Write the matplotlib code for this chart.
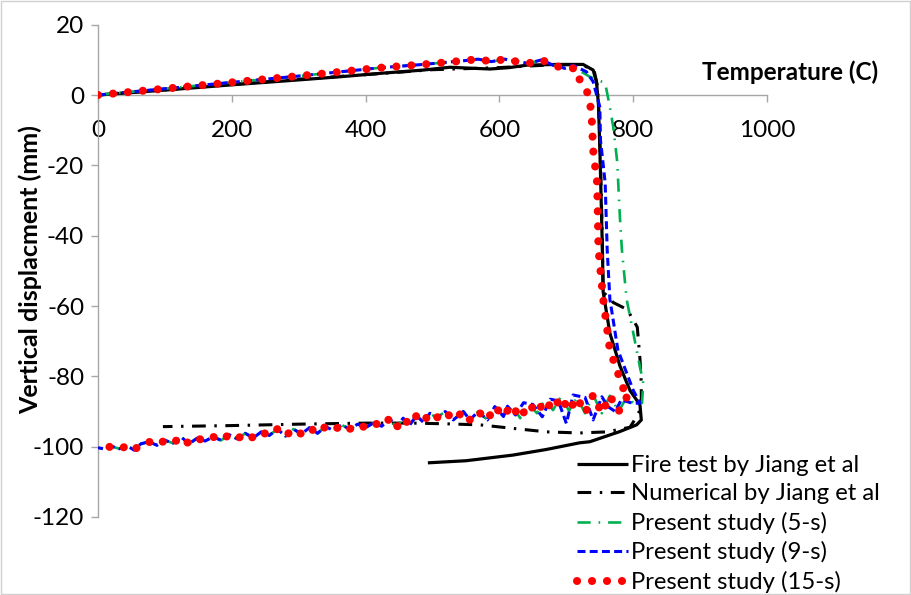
import matplotlib
matplotlib.use("Agg")
import matplotlib.pyplot as plt
from matplotlib.patches import Rectangle

plt.rcParams['font.family'] = ['Lato', 'DejaVu Sans']
plt.rcParams['axes.unicode_minus'] = False

# ---------------- data ----------------
fire_T = [0, 100, 200, 300, 362, 424, 486, 526, 560, 586, 615, 641, 686, 725, 740, 745, 748,
          750, 752, 754, 755, 765, 780, 795, 810, 812, 805, 780, 735, 720, 670, 620, 550, 493]
fire_y = [0, 1.4, 2.9, 4.3, 5.2, 6.2, 7.1, 7.9, 7.6, 7.4, 7.8, 8.5, 8.7, 8.7, 7.1, 3.8, -2.8,
          -15, -30, -45, -56, -67.7, -77, -84, -88.1, -92.4, -93.8, -95.7, -98.6, -98.9, -100.8, -102.4, -104, -104.6]

num_T = [0, 100, 200, 300, 400, 500, 600, 680, 725, 742, 747, 750, 753, 755, 770, 791, 806, 810, 812, 812,
         800, 795, 760, 720, 671, 620, 571, 520, 470, 400, 300, 200, 97]
num_y = [0, 1.5, 3.0, 4.5, 5.8, 7.2, 7.8, 8.6, 8.6, 6.5, 2.0, -12, -35, -56, -59, -61, -66, -75, -82, -89,
         -93.0, -94.5, -95.8, -96.1, -95.8, -94.8, -93.8, -93.5, -93.3, -93.3, -93.6, -94.0, -94.3]

# present study - upper (heating) branch, shared shape
up_T = [0, 100, 200, 300, 362, 424, 486, 549, 568, 588, 608, 626, 643, 663, 681, 698]
up_y = [0, 1.8, 3.6, 5.4, 6.6, 7.8, 8.7, 9.8, 10.2, 9.5, 10.2, 9.5, 9.0, 10.0, 8.4, 7.6]

s5_T = [710, 735, 758, 765, 770, 776, 780, 783, 790, 805, 815, 813]
s5_y = [8.0, 5.2, 3.4, -3.4, -9, -19, -34.7, -44, -58, -72.5, -82, -87.6]

s9_T = [710, 730, 740, 746, 750, 751, 758, 761, 765, 777, 800, 810]
s9_y = [8.5, 6.6, 3.8, -0.5, -3.4, -12.8, -25, -44, -58, -72.5, -84, -87.6]

s15_T = [715, 720, 730, 735, 738, 740, 746, 748, 755, 765, 778, 785, 795]
s15_y = [7.6, 4.3, 1.4, -1.4, -7, -15.6, -25, -44, -58, -72.5, -79.6, -83.4, -86.0]

# present study - lower (cooling) branch, oscillating
low_T = [800, 790, 778, 765, 753, 740, 728, 716, 704, 692, 680, 668, 656, 644, 631, 618, 606, 593,
         582, 568, 556, 546, 531, 519, 506, 496, 486, 476, 466, 456, 446, 436, 424, 412, 400, 388,
         376, 364, 352, 340, 328, 316, 304, 292, 280, 268, 256, 244, 232, 220, 208, 196, 184, 172,
         160, 148, 136, 124, 112, 100, 88, 76, 64, 54, 44, 32, 20, 8, 0]
low_y = [-87.5, -86.0, -90.0, -85.5, -90.5, -85.3, -90.5, -86.0, -89.8, -85.8, -89.6, -86.7, -90.5,
         -87.8, -91.9, -88.1, -91.4, -88.6, -92.4, -90.0, -92.4, -90.0, -92.4, -90.0, -91.8, -90.5,
         -93.0, -91.2, -93.8, -91.9, -94.6, -92.0, -94.2, -93.2, -94.6, -93.6, -95.0, -93.8, -95.4,
         -94.3, -96.2, -94.6, -96.4, -95.0, -97.0, -95.0, -96.8, -95.8, -97.5, -96.2, -97.8, -96.6,
         -98.2, -97.2, -98.4, -97.6, -99.2, -97.2, -99.0, -98.2, -99.6, -98.6, -99.2, -101.0, -99.8,
         -100.6, -99.9, -100.6, -100.3]

# blue branch near the right has larger oscillations
s9_low_T = [800, 782, 773, 762, 753, 740, 728, 710, 700, 688, 676, 664, 650, 636, 624, 612]
s9_low_y = [-87.7, -86.7, -90.0, -88.6, -85.8, -92.4, -86.0, -85.3, -93.4, -87.0, -86.5, -91.5,
            -88.0, -87.5, -91.0, -88.5]

labels = ["Fire test by Jiang et al", "Numerical by Jiang et al", "Present study (5-s)",
          "Present study (9-s)", "Present study (15-s)"]
x_ticks = [0, 200, 400, 600, 800, 1000]
y_ticks = [20, 0, -20, -40, -60, -80, -100, -120]

# ---------------- figure ----------------
fig = plt.figure(figsize=(9.12, 5.95), dpi=100)
fig.patches.append(Rectangle((0.001, 0.002), 0.997, 0.996, transform=fig.transFigure,
                             fill=False, edgecolor='#d0d0d0', lw=1.0))
ax = fig.add_axes([0.1075, 0.1311, 0.7336, 0.8274])

ax.plot(fire_T, fire_y, color='black', lw=2.3, solid_capstyle='butt', label=labels[0], zorder=3)
ax.plot(num_T, num_y, color='black', lw=2.2, linestyle=(0, (4.5, 2.8, 0.8, 2.8)),
        label=labels[1], zorder=2)

T5 = up_T + s5_T + low_T
Y5 = up_y + s5_y + low_y
ax.plot(T5, Y5, color='#00b050', lw=1.9, linestyle=(0, (5, 3, 0.6, 3)), label=labels[2], zorder=4)

low9_T = s9_low_T + [t for t in low_T if t < 612]
low9_y = s9_low_y + [y for t, y in zip(low_T, low_y) if t < 612]
T9 = up_T + s9_T + low9_T
Y9 = up_y + s9_y + low9_y
ax.plot(T9, Y9, color='#0000ff', lw=2.2, linestyle=(0, (2.6, 1.4)), label=labels[3], zorder=5)

T15 = up_T + s15_T + [t for t in low_T if t <= 790]
Y15 = up_y + s15_y + [y for t, y in zip(low_T, low_y) if t <= 790]
ax.plot(T15, Y15, color='#ff0000', lw=5.8, linestyle=(0, (0.01, 1.85)),
        dash_capstyle='round', label=labels[4], zorder=6)

ax.set_xlim(0, 1000)
ax.set_ylim(-120, 20)
ax.set_xticks(x_ticks)
ax.set_yticks(y_ticks)
ax.set_xticklabels([str(v) for v in x_ticks])
ax.set_yticklabels([str(v) for v in y_ticks])

for s in ['top', 'right']:
    ax.spines[s].set_visible(False)
ax.spines['bottom'].set_position(('data', 0))
for s in ['left', 'bottom']:
    ax.spines[s].set_color('#a6a6a6')
    ax.spines[s].set_linewidth(1.0)
ax.tick_params(axis='both', colors='#a6a6a6', labelcolor='black', labelsize=17.5,
               direction='out', length=5, width=1.0)
ax.tick_params(axis='x', pad=13)
ax.tick_params(axis='y', pad=5)

fig.text(790 / 912, 1 - 72 / 595, "Temperature (C)", fontsize=17.5, fontweight='bold',
         ha='center', va='center')
fig.text(30 / 912, 1 - 270 / 595, "Vertical displacment (mm)", fontsize=18, fontweight='bold',
         ha='center', va='center', rotation=90)

leg = ax.legend(loc='upper left', bbox_to_anchor=(577 / 912, 1 - 455 / 595),
                bbox_transform=fig.transFigure, frameon=False, fontsize=17.2,
                handlelength=2.15, handletextpad=0.12, labelspacing=0.31, borderpad=0,
                borderaxespad=0)

fig.savefig("out.png", dpi=100)
